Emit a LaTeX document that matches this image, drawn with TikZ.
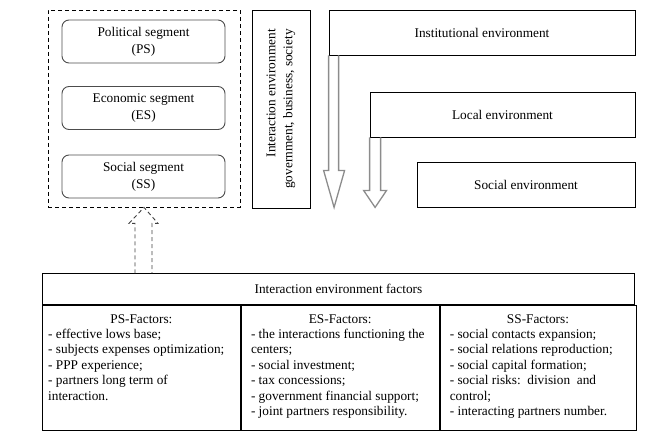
\documentclass[tikz,border=0pt]{standalone}
\usepackage{fontspec}
\setmainfont{Liberation Serif}
\usetikzlibrary{calc}
\begin{document}
\begin{tikzpicture}[
		x=1pt, y=-1pt,
		font=\fontsize{13.3}{17}\selectfont,
		every node/.style={inner sep=0pt},
		segbox/.style={draw=black!70, line width=0.9pt, rounded corners=7pt,
				minimum width=163pt, minimum height=43pt, align=center},
		envbox/.style={draw, line width=0.8pt, minimum height=45pt},
		cellbox/.style={draw, line width=0.8pt, anchor=north west, minimum height=125pt},
		fatarrow/.style={draw=black!45, line width=1.3pt},
		dasharrow/.style={draw=black!75, line width=0.9pt, dash pattern=on 4pt off 3pt},
		cellhead/.style={anchor=base},
		factors/.style={anchor=north west, align=left,
				font=\fontsize{13.3}{15.5}\selectfont}
	]
	\useasboundingbox (0,0) rectangle (665,444);

	\node[draw, line width=0.8pt, dash pattern=on 4pt off 3pt,
		minimum width=192pt, minimum height=197pt] (segments) at (144,108.5) {};
	\node[segbox] (ps) at (143.5,41.5) {Political segment\\(PS)};
	\node[segbox] (es) at (143.5,108) {Economic segment\\(ES)};
	\node[segbox] (ss) at (143.5,176.5) {Social segment\\(SS)};

	\node[draw, line width=0.8pt, minimum width=58pt, minimum height=198pt] (interact) at (281,109) {};
	\node[rotate=90, anchor=east, align=right] (interacttext) at (281,29)
	{Interaction environment\\government, business, society};

	\node[envbox, minimum width=306pt] (inst) at (482,32.5) {Institutional environment};
	\node[envbox, minimum width=265pt] (local) at (502.5,114.5) {Local environment};
	\node[envbox, minimum width=218pt] (social) at (526,184.5) {Social environment};

	\draw[fatarrow] (inst.south west) -- ++(0,115) -- ++(-5,0) -- ++(10.5,37)
	-- ++(10.5,-37) -- ++(-6,0) -- ++(0,-115);
	\draw[fatarrow] (local.south west) -- ++(0,53) -- ++(-6,0) -- ++(11.5,17)
	-- ++(11.5,-17) -- ++(-6,0) -- ++(0,-53);

	\node[draw, line width=0.8pt, anchor=north west, minimum width=592pt, minimum height=31pt]
	(head) at (42,273) {Interaction environment factors};
	\node[cellbox, minimum width=198pt] (cps) at (head.south west) {};
	\node[cellbox, minimum width=198pt] (ces) at (cps.north east) {};
	\node[cellbox, minimum width=196pt] (css) at (ces.north east) {};

	\draw[dasharrow] ($(segments.south)+(-9,66)$) -- ++(0,-50) -- ++(-6,0) -- (segments.south)
	-- ++(14,16) -- ++(-6,0) -- ++(0,50);

	\node[cellhead] (psh) at ($(cps.north)+(0,18.5)$) {PS-Factors:};
	\node[cellhead] (esh) at ($(ces.north)+(0,18.5)$) {ES-Factors:};
	\node[cellhead] (ssh) at ($(css.north)+(0,18.5)$) {SS-Factors:};

	\node[factors] (psf) at ($(cps.north west)+(6,24)$)
	{- effective lows base;\\
		- subjects expenses optimization;\\
		- PPP experience;\\
		- partners long term of\\
		interaction.};
	\node[factors] (esf) at ($(ces.north west)+(10,24)$)
	{- the interactions functioning the\\
		centers;\\
		- social investment;\\
		- tax concessions;\\
		- government financial support;\\
		- joint partners responsibility.};
	\node[factors] (ssf) at ($(css.north west)+(10,24)$)
	{- social contacts expansion;\\
		- social relations reproduction;\\
		- social capital formation;\\
		- social risks:\ \ division\ \ and\\
		control;\\
		- interacting partners number.};
\end{tikzpicture}
\end{document}
